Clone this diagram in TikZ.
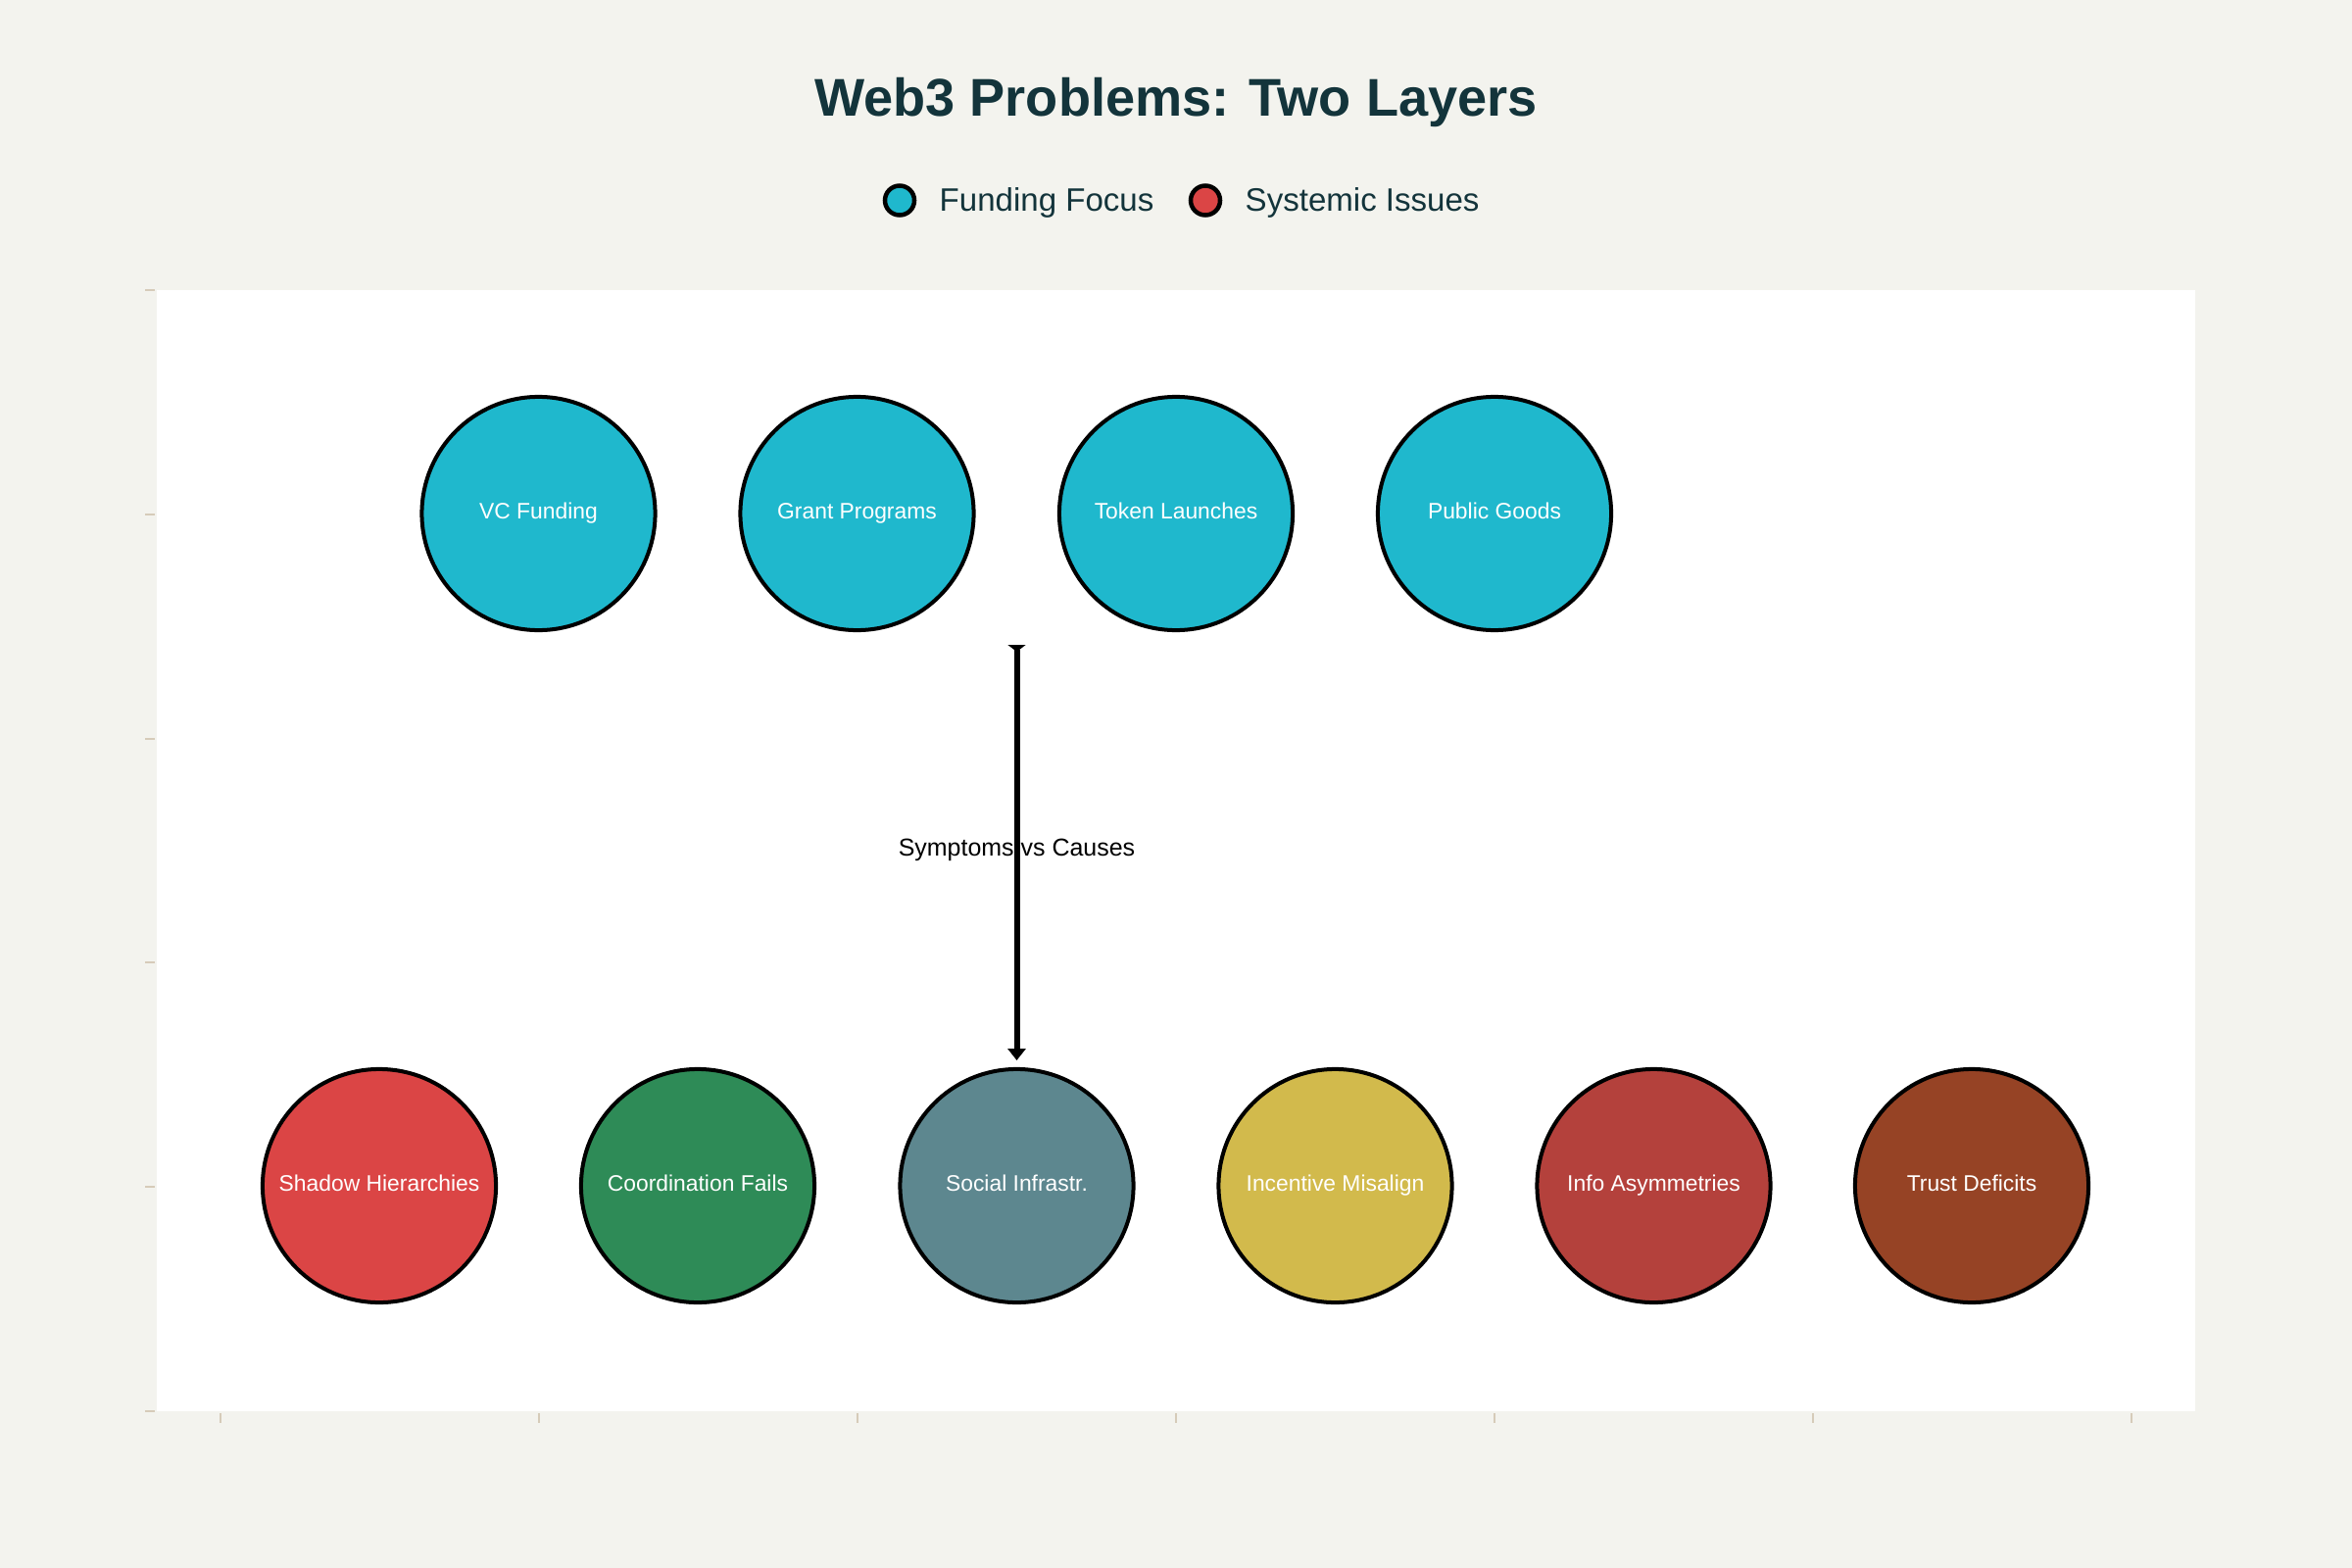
\documentclass[tikz,border=0pt]{standalone}
\usepackage{fontspec}
\setmainfont{Liberation Sans}
\usetikzlibrary{arrows.meta}
\definecolor{bgc}{HTML}{F3F3EE}
\definecolor{titlec}{HTML}{13343B}
\definecolor{tickc}{HTML}{D6CBB9}
\definecolor{ccyan}{HTML}{1FB8CD}
\definecolor{cred}{HTML}{DB4545}
\definecolor{cgreen}{HTML}{2E8B57}
\definecolor{cslate}{HTML}{5D878F}
\definecolor{cyellow}{HTML}{D2BA4C}
\definecolor{cbrick}{HTML}{B4413C}
\definecolor{cbrown}{HTML}{964325}
\tikzset{
  bubble/.style={circle, draw=black, line width=0.04cm, minimum size=2.38cm, inner sep=0pt,
    text=white, text height=0.72em, text depth=0.4em, font=\fontsize{6.5pt}{7.5pt}\selectfont},
  legdot/.style={circle, draw=black, line width=0.045cm, minimum size=0.30cm, inner sep=0pt},
  legtext/.style={anchor=west, text=titlec, inner sep=0pt, text height=0.72em, text depth=0.2em, font=\fontsize{9.4pt}{11pt}\selectfont},
  tickmark/.style={draw=tickc, line width=0.02cm},
  link/.style={line width=0.06cm, draw=black}
}
\begin{document}
\begin{tikzpicture}[x=0.01cm, y=-0.01cm]
\useasboundingbox (0,0) rectangle (2400,1600);
\fill[bgc] (0,0) rectangle (2400,1600);
% plot area
\fill[white] (160,296) rectangle (2240,1440);
% ticks
\foreach \yy in {296,524.8,753.6,982.4,1211.2,1440} {\draw[tickmark] (148,\yy) -- (158,\yy);}
\foreach \xx in {225,550,875,1200,1525,1850,2175} {\draw[tickmark] (\xx,1442) -- (\xx,1452);}
% title
\node[anchor=base, text=titlec, inner sep=0pt, font=\fontsize{15.4pt}{18pt}\selectfont\bfseries] (title) at (1200,119) {Web3 Problems: Two Layers};
% legend
\node[legdot, fill=ccyan] (lg1) at (918,204.5) {};
\node[legtext] (lt1) at (958,206) {Funding Focus};
\node[legdot, fill=cred] (lg2) at (1230,204.5) {};
\node[legtext] (lt2) at (1270,206) {Systemic Issues};
% top row
\node[bubble, fill=ccyan] (vc) at (549.5,524) {VC Funding};
\node[bubble, fill=ccyan] (grant) at (874.5,524) {Grant Programs};
\node[bubble, fill=ccyan] (token) at (1200,524) {Token Launches};
\node[bubble, fill=ccyan] (pub) at (1525,524) {Public Goods};
% bottom row
\node[bubble, fill=cred] (shadow) at (387,1210) {Shadow Hierarchies};
\node[bubble, fill=cgreen] (coord) at (712,1210) {Coordination Fails};
\node[bubble, fill=cslate] (social) at (1037.5,1210) {Social Infrastr.};
\node[bubble, fill=cyellow] (incent) at (1362.5,1210) {Incentive Misalign};
\node[bubble, fill=cbrick] (info) at (1687.5,1210) {Info Asymmetries};
\node[bubble, fill=cbrown] (trust) at (2012,1210) {Trust Deficits};
% arrow
\coordinate (astart) at (1037.5,658);
\coordinate (aend) at (1037.5,1082);
\draw[link, {Triangle[reversed,width=0.18cm,length=0.07cm]}-{Triangle[width=0.18cm,length=0.12cm]}] (astart) -- (aend);
\node[text=black, inner sep=0pt, text height=0.72em, text depth=0.2em, font=\fontsize{7.1pt}{8.5pt}\selectfont] (lbl) at (1037.5,864) {Symptoms vs Causes};
\end{tikzpicture}
\end{document}
